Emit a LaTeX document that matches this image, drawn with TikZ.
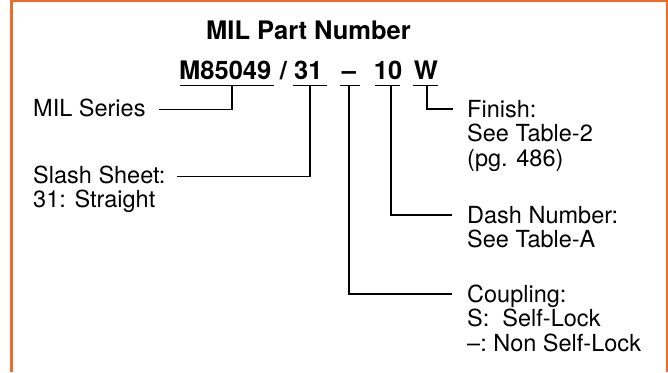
\documentclass[tikz,border=0pt]{standalone}
\usepackage{fontspec}
\setmainfont{TeX Gyre Heros}
\definecolor{frameorange}{RGB}{241,106,45}
\begin{document}
\begin{tikzpicture}[x=1pt,y=-1pt,
  lbl/.style={inner sep=0pt, anchor=base west, align=left, font=\fontsize{23.5}{24.5}\selectfont},
  part/.style={inner sep=0pt, anchor=base, font=\fontsize{25.5}{26}\selectfont\bfseries},
  conn/.style={line width=1.6pt, line cap=butt},
  frame/.style={draw=frameorange, line width=2.5pt}]
\useasboundingbox (0,0) rectangle (668,372);
\draw[frame] (11.5,372) -- (11.5,1.1) -- (667.3,1.1) -- (667.3,372);
% title
\node[part] (title) at (308.5,39) {MIL Part Number};
% part number pieces
\node[part, anchor=base west] (mil) at (179,79) {M85049};
\node[part] (sl) at (283.5,79) {/};
\node[part, anchor=base west] (n31) at (294,79) {31};
\node[part] (cp) at (349,79) {--};
\node[part] (ds) at (388,79) {10};
\node[part] (fn) at (426,79) {W};
% underlines
\coordinate (u1a) at (180,85.5); \coordinate (u1b) at (274,85.5);
\coordinate (u2a) at (293,85.5); \coordinate (u2b) at (327,85.5);
\coordinate (u3a) at (340,85.5); \coordinate (u3b) at (360,85.5);
\coordinate (u4a) at (375,85.5); \coordinate (u4b) at (400,85.5);
\coordinate (u5a) at (413,85.5); \coordinate (u5b) at (438,85.5);
\draw[conn] (u1a) -- (u1b);
\draw[conn] (u2a) -- (u2b);
\draw[conn] (u3a) -- (u3b);
\draw[conn] (u4a) -- (u4b);
\draw[conn] (u5a) -- (u5b);
% labels (base anchor = baseline of last line)
\node[lbl] (lmil) at (33,116) {MIL Series};
\node[lbl] (lslash) at (33,207.5) {Slash Sheet:\\31: Straight};
\node[lbl] (lfin) at (467,166) {Finish:\\See Table-2\\(pg. 486)};
\node[lbl] (ldash) at (467,247.5) {Dash Number:\\See Table-A};
\node[lbl] (lcoup) at (467,351) {Coupling:\\S:\ \ Self-Lock\\--:\ Non Self-Lock};
% connectors
\coordinate (s1) at (232,85.5); \coordinate (e1) at (159,109.5);
\coordinate (s2) at (310,85.5); \coordinate (e2) at (177,176.5);
\coordinate (s3) at (349,85.5); \coordinate (e3) at (452,294);
\coordinate (s4) at (391,85.5); \coordinate (e4) at (452,215);
\coordinate (s5) at (427,85.5); \coordinate (e5) at (453,109);
\draw[conn] (s1) |- (e1);
\draw[conn] (s2) |- (e2);
\draw[conn] (s3) |- (e3);
\draw[conn] (s4) |- (e4);
\draw[conn] (s5) |- (e5);
\end{tikzpicture}
\end{document}
